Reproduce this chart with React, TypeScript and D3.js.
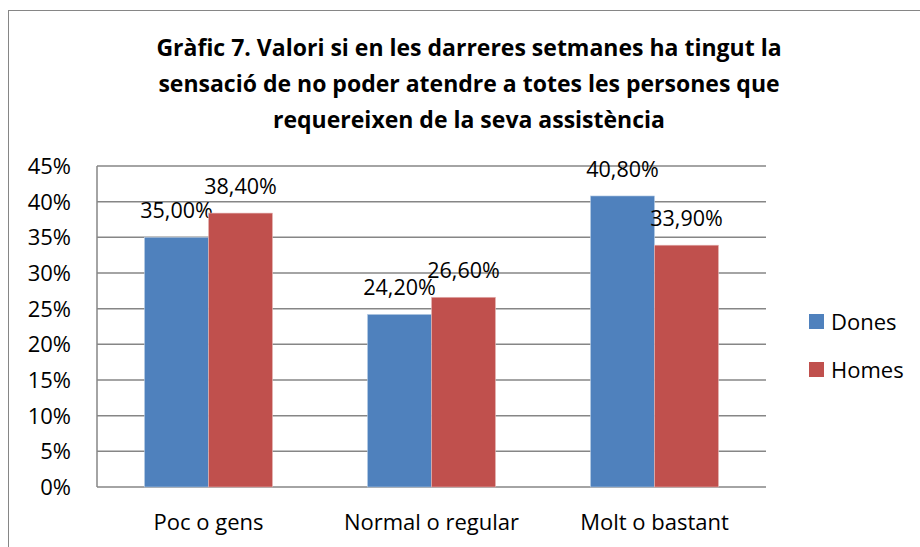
import { useEffect } from "react"
import * as d3 from "d3"

const categories = ["Poc o gens", "Normal o regular", "Molt o bastant"]
const series = ["Dones", "Homes"]
const dones = [35.0, 24.2, 40.8]
const homes = [38.4, 26.6, 33.9]
const yTicks = [0, 5, 10, 15, 20, 25, 30, 35, 40, 45]
const titleLines = [
  "Gràfic 7. Valori si en les darreres setmanes ha tingut la",
  "sensació de no poder atendre a totes les persones que",
  "requereixen de la seva assistència",
]

const colors = ["#4F81BD", "#C0504D"]
const font = "'Open Sans', 'Liberation Sans', sans-serif"

export default function App() {
  useEffect(() => {
    document.body.style.margin = "0"
  }, [])

  const width = 920
  const height = 547
  const plot = { left: 97, right: 766, top: 166, bottom: 487 }

  const x = d3.scaleBand().domain(categories).range([plot.left, plot.right])
  const x1 = d3.scaleBand().domain(series).range([0, 128])
  const y = d3.scaleLinear().domain([0, 45]).range([plot.bottom, plot.top])

  const values = [dones, homes]
  const fmt = (v: number) => v.toFixed(2).replace(".", ",") + "%"

  return (
    <svg width={width} height={height} style={{ display: "block" }} fontFamily={font}>
      <rect x={0} y={0} width={width} height={height} fill="#fff" />
      <rect x={8.5} y={10.5} width={width + 20} height={height + 20} fill="none" stroke="#868686" strokeWidth={1} />

      {titleLines.map((t, i) => (
        <text key={i} x={469} y={56 + i * 36} textAnchor="middle" fontSize={23} fontWeight="bold" fill="#000">
          {t}
        </text>
      ))}

      {yTicks.map((t) => (
        <g key={t}>
          <line x1={plot.left} x2={plot.right} y1={y(t)} y2={y(t)} stroke="#868686" strokeWidth={1.5} />
          <text x={71} y={y(t) + 8} textAnchor="end" fontSize={22} fill="#000">
            {t}%
          </text>
        </g>
      ))}
      <line x1={plot.left} x2={plot.left} y1={plot.top} y2={plot.bottom} stroke="#868686" strokeWidth={1.5} />

      {categories.map((c, ci) => {
        const gx = (x(c) || 0) + (x.bandwidth() - 128) / 2
        return (
          <g key={c}>
            {series.map((s, si) => {
              const v = values[si][ci]
              const bx = gx + (x1(s) || 0)
              return (
                <g key={s}>
                  <rect
                    x={bx}
                    y={y(v)}
                    width={x1.bandwidth()}
                    height={plot.bottom - y(v)}
                    fill={colors[si]}
                    stroke={si === 0 ? "#b9cde5" : "#e6b9b8"}
                    strokeWidth={0.6}
                  />
                  <text x={bx + x1.bandwidth() / 2} y={y(v) - 19} textAnchor="middle" fontSize={21.5} fill="#000">
                    {fmt(v)}
                  </text>
                </g>
              )
            })}
            <text x={(x(c) || 0) + x.bandwidth() / 2} y={530} textAnchor="middle" fontSize={22} fill="#000">
              {c}
            </text>
          </g>
        )
      })}

      {series.map((s, i) => (
        <g key={s} transform={`translate(809, ${314 + i * 48})`}>
          <rect x={0} y={0} width={15} height={15} fill={colors[i]} />
          <text x={22} y={16} fontSize={22} fill="#000">
            {s}
          </text>
        </g>
      ))}
    </svg>
  )
}
